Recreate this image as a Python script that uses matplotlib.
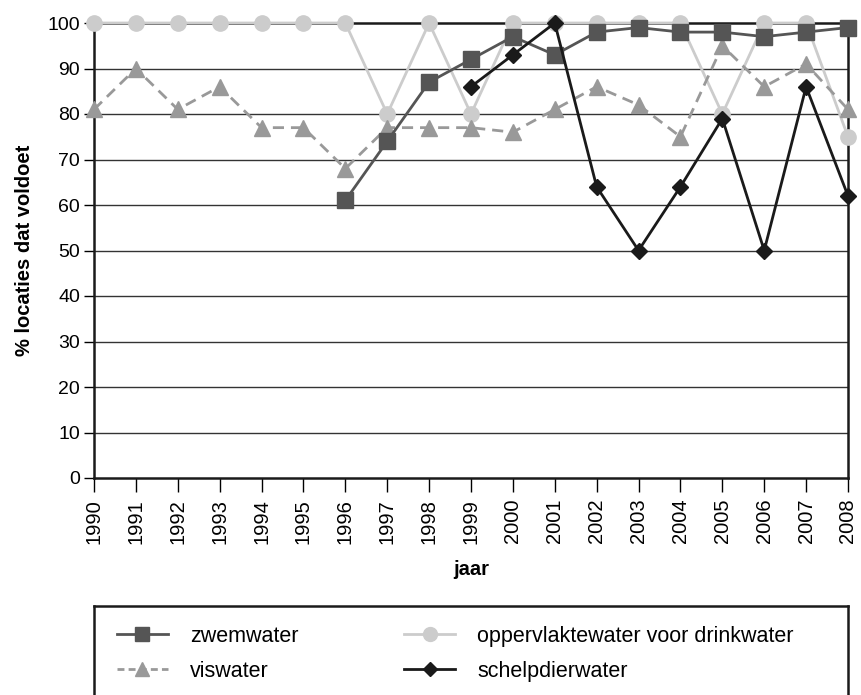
import matplotlib
matplotlib.use("Agg")
import matplotlib.pyplot as plt
from matplotlib.lines import Line2D

plt.rcParams["font.family"] = ["Liberation Sans", "DejaVu Sans"]

years = list(range(1990, 2009))

zwem_years = list(range(1996, 2009))
zwemwater = [61, 74, 87, 92, 97, 93, 98, 99, 98, 98, 97, 98, 99]

drinkwater = [100, 100, 100, 100, 100, 100, 100, 80, 100, 80,
              100, 100, 100, 100, 100, 80, 100, 100, 75]

viswater = [81, 90, 81, 86, 77, 77, 68, 77, 77, 77,
            76, 81, 86, 82, 75, 95, 86, 91, 81]

schelp_years = list(range(1999, 2009))
schelpdierwater = [86, 93, 100, 64, 50, 64, 79, 50, 86, 62]

y_ticks = list(range(0, 101, 10))

c_zwem = "#555555"
c_drink = "#cccccc"
c_vis = "#999999"
c_schelp = "#1a1a1a"

fig = plt.figure(figsize=(8.61, 6.95), dpi=100)
ax = fig.add_axes([94 / 861, 1 - 478 / 695, (848 - 94) / 861, (478 - 23) / 695])

for y in y_ticks[1:-1]:
    ax.axhline(y, color="#333333", lw=1.0, zorder=1)

ax.plot(years, drinkwater, color=c_drink, lw=2, marker="o", ms=11, zorder=3, clip_on=False)
ax.plot(years, viswater, color=c_vis, lw=2, ls=(0, (4, 2.5)), marker="^", ms=11, zorder=4, clip_on=False)
ax.plot(zwem_years, zwemwater, color=c_zwem, lw=2, marker="s", ms=11.5, zorder=5, clip_on=False)
ax.plot(schelp_years, schelpdierwater, color=c_schelp, lw=2, marker="D", ms=8, zorder=6, clip_on=False)

ax.set_xlim(1990, 2008)
ax.set_ylim(0, 100)
ax.set_yticks(y_ticks)
ax.set_xticks(years)
ax.set_xticklabels([str(y) for y in years], rotation=90, fontsize=14.5)
ax.tick_params(axis="y", labelsize=14, length=7, width=1, direction="out", pad=3)
ax.tick_params(axis="x", length=10, width=1, direction="out", pad=5)
for s in ax.spines.values():
    s.set_linewidth(1.8)
    s.set_color("#1a1a1a")

ax.set_ylabel("% locaties dat voldoet", fontsize=14.5, fontweight="bold", labelpad=10)
ax.set_xlabel("jaar", fontsize=14.5, fontweight="bold", labelpad=12)

# legend box, cut off at the bottom of the figure
leg_ax = fig.add_axes([94 / 861, -0.1, (848 - 94) / 861, (695 - 606) / 695 + 0.1])
leg_ax.set_xticks([])
leg_ax.set_yticks([])
for s in leg_ax.spines.values():
    s.set_linewidth(1.8)
    s.set_color("#1a1a1a")

handles = [
    Line2D([], [], color=c_zwem, lw=2, marker="s", ms=10),
    Line2D([], [], color=c_vis, lw=2, ls=(0, (2.5, 1.5)), marker="^", ms=10),
    Line2D([], [], color=c_drink, lw=2, marker="o", ms=10),
    Line2D([], [], color=c_schelp, lw=2, marker="D", ms=7.5),
]
labels = ["zwemwater", "viswater", "oppervlaktewater voor drinkwater", "schelpdierwater"]
fig.legend(handles, labels, ncol=2, frameon=False, fontsize=15.5,
           loc="upper left", bbox_to_anchor=(108 / 861, 1 - 617 / 695),
           handlelength=2.4, handletextpad=1.0, columnspacing=4.9,
           labelspacing=0.65, borderaxespad=0)

fig.savefig("out.png", dpi=100)
